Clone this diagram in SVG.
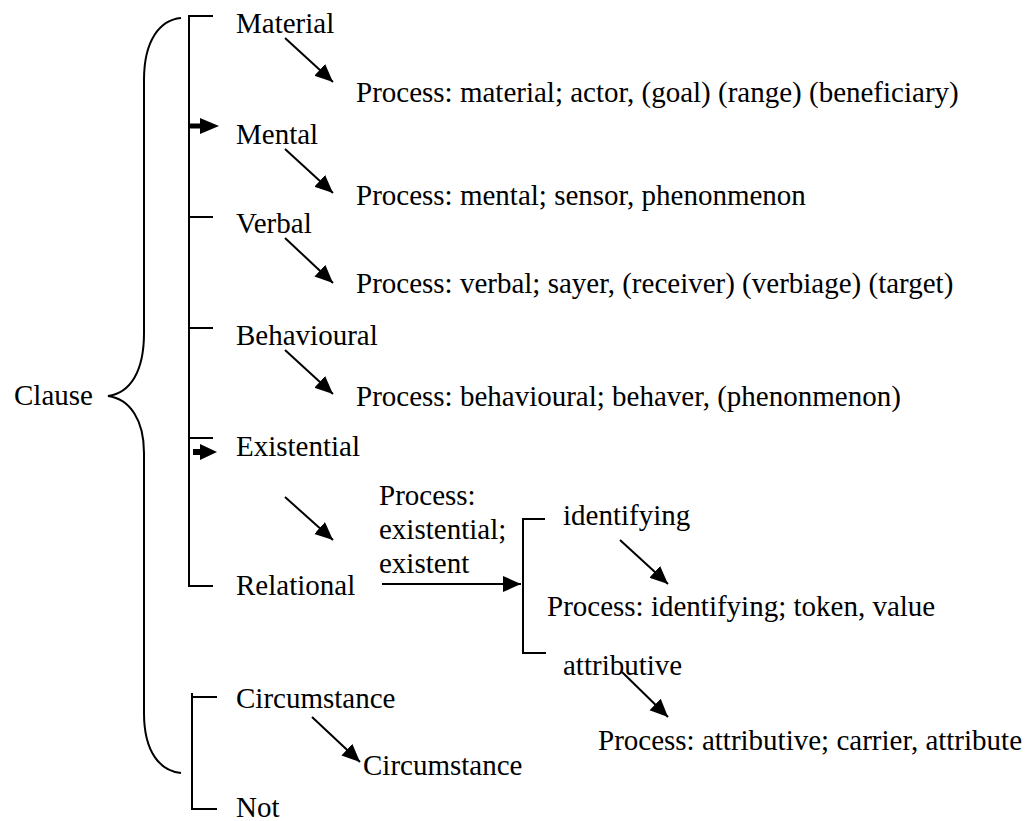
<svg xmlns="http://www.w3.org/2000/svg" width="1034" height="821" viewBox="0 0 1034 821">
<style>
text{font-family:"Liberation Serif","Times New Roman",serif;font-size:29px;fill:#000}
.ln{stroke:#000;stroke-width:2;fill:none}
.ar{stroke:#000;stroke-width:2;fill:none;marker-end:url(#ah)}
.hd{fill:#000;stroke:none}
</style>
<defs>
<marker id="ah" markerUnits="userSpaceOnUse" markerWidth="19" markerHeight="17" refX="18" refY="8" orient="auto">
<path d="M0,0 L18,8 L0,16 z" fill="#000"/>
</marker>
</defs>
<rect width="1034" height="821" fill="#fff"/>
<g id="connectors">
<path id="brace" class="ln" d="M181,18 C160,20 144,40 144,80 L144,333 C144,372 130,393 108,396 C130,399 144,420 144,453 L144,713 C144,752 160,771 181,773"/>
<path id="main-bracket" class="ln" d="M213,16 L189,16 L189,586 L213,586 M189,217 L213,217 M189,328 L213,328 M189,438 L213,438"/>
<path class="ln" d="M189,126 L201,126" style="stroke-width:5"/>
<path class="hd" d="M200,118 L219,126 L200,134 z"/>
<path class="ln" d="M193,452 L202,452" style="stroke-width:6"/>
<path class="hd" d="M200,444 L217,452 L200,460 z"/>
<path id="circ-bracket" class="ln" d="M192,693 L192,809 L217,809 M192,697 L217,697"/>
<path id="ident-bracket" class="ln" d="M545,519 L523,519 L523,653 L546,653"/>
<line class="ar" x1="285" y1="38" x2="333" y2="82"/>
<line class="ar" x1="285" y1="149" x2="333" y2="193"/>
<line class="ar" x1="285" y1="238" x2="333" y2="283"/>
<line class="ar" x1="285" y1="350" x2="333" y2="394"/>
<line class="ar" x1="285" y1="497" x2="333" y2="540"/>
<line class="ar" x1="382" y1="584" x2="521" y2="584"/>
<line class="ar" x1="620" y1="540" x2="668" y2="584"/>
<line class="ar" x1="622" y1="672" x2="668" y2="717"/>
<line class="ar" x1="312" y1="717" x2="360" y2="762"/>
</g>
<g id="clause"><text x="14" y="405">Clause</text></g>
<g id="material"><text x="236" y="33">Material</text></g>
<g id="material-process"><text x="356" y="102">Process: material; actor, (goal) (range) (beneficiary)</text></g>
<g id="mental"><text x="236" y="144">Mental</text></g>
<g id="mental-process"><text x="356" y="205">Process: mental; sensor, phenonmenon</text></g>
<g id="verbal"><text x="236" y="233">Verbal</text></g>
<g id="verbal-process"><text x="356" y="293">Process: verbal; sayer, (receiver) (verbiage) (target)</text></g>
<g id="behavioural"><text x="236" y="345">Behavioural</text></g>
<g id="behavioural-process"><text x="356" y="406">Process: behavioural; behaver, (phenonmenon)</text></g>
<g id="existential"><text x="236" y="456">Existential</text></g>
<g id="existential-process"><text x="379" y="505">Process:</text><text x="379" y="539">existential;</text><text x="379" y="573">existent</text></g>
<g id="relational"><text x="236" y="595">Relational</text></g>
<g id="identifying"><text x="563" y="525">identifying</text></g>
<g id="identifying-process"><text x="547" y="616">Process: identifying; token, value</text></g>
<g id="attributive"><text x="563" y="675">attributive</text></g>
<g id="attributive-process"><text x="598" y="750">Process: attributive; carrier, attribute</text></g>
<g id="circumstance"><text x="236" y="708">Circumstance</text></g>
<g id="circumstance-2"><text x="363" y="775">Circumstance</text></g>
<g id="not"><text x="236" y="817">Not</text></g>
</svg>
